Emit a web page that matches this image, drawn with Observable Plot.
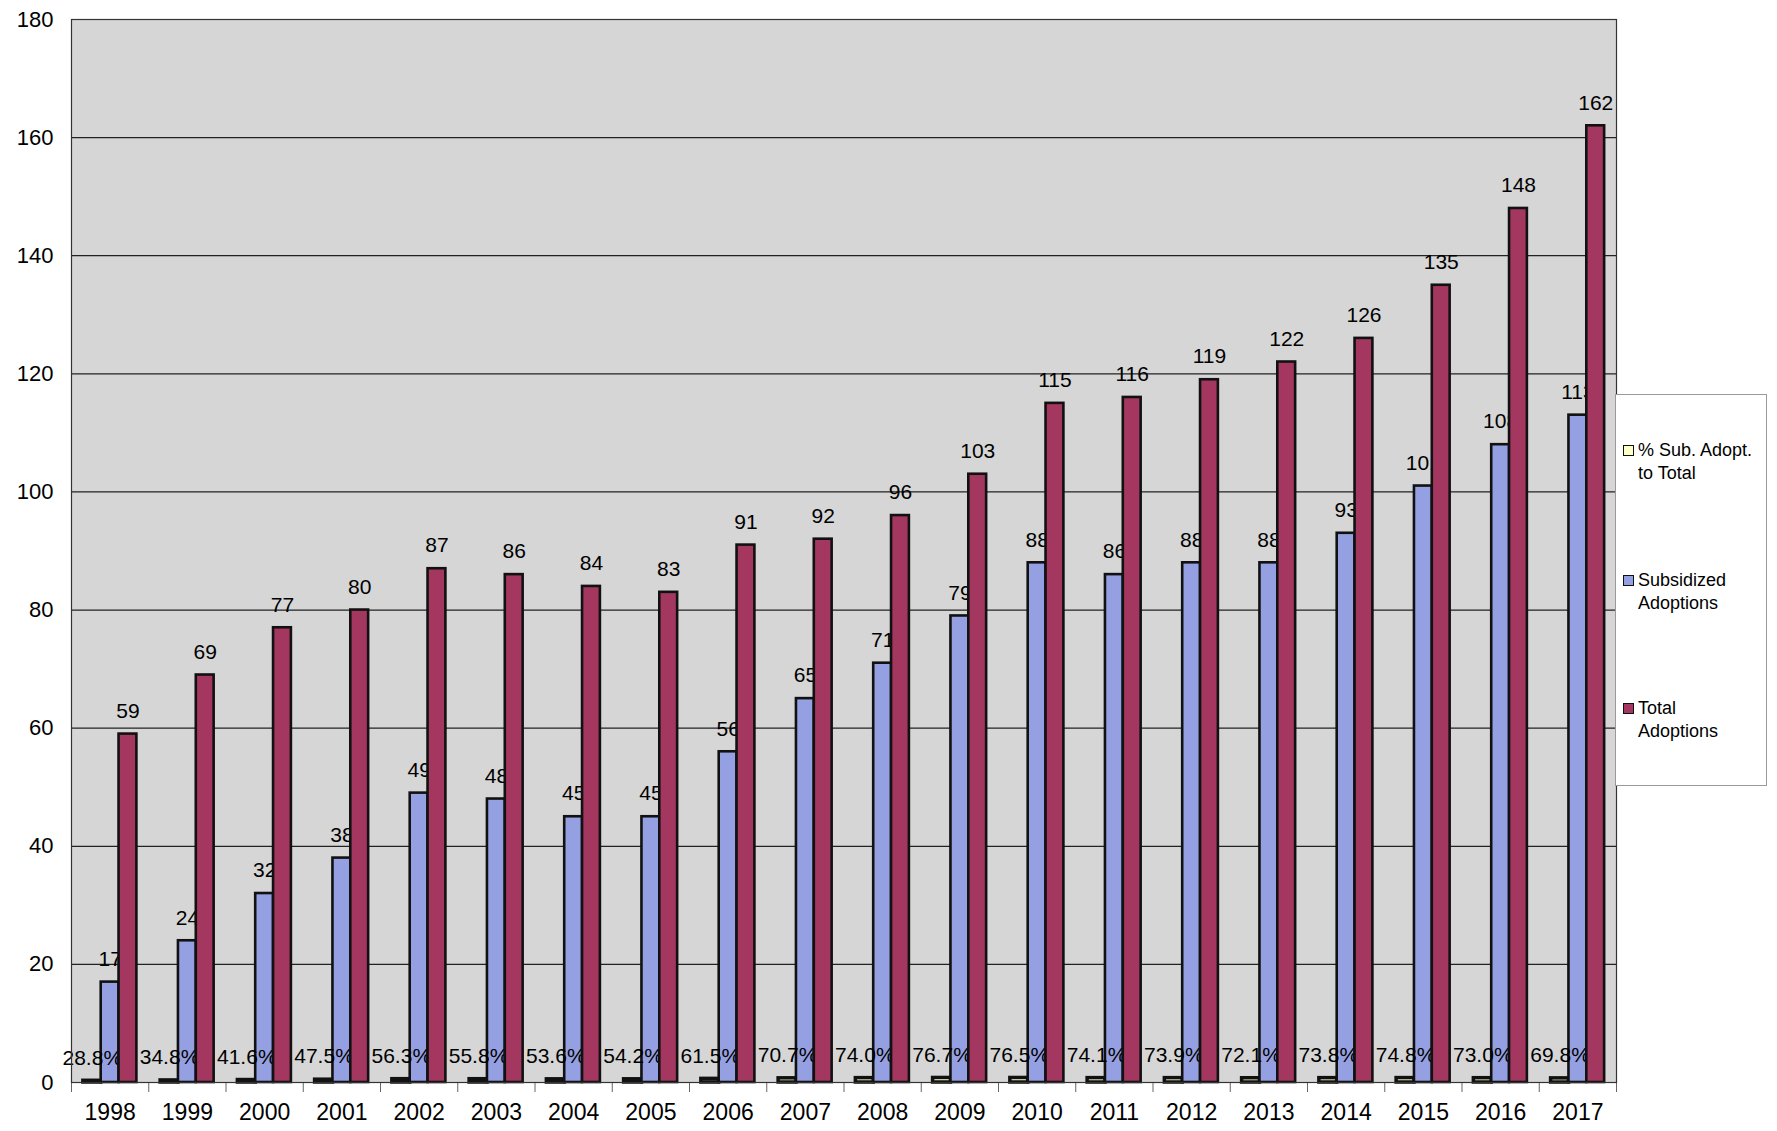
<!DOCTYPE html>
<html><head><meta charset="utf-8">
<script src="https://cdn.jsdelivr.net/npm/d3@7"></script>
<script src="https://cdn.jsdelivr.net/npm/@observablehq/plot@0.6"></script>
<style>
body{margin:0;background:#fff;font-family:"Liberation Sans",Arial,sans-serif;}
#wrap{position:relative;width:1777px;height:1131px;}
#legend{position:absolute;left:1615px;top:394px;width:152px;height:392px;border:1px solid #9a9a9a;background:#fff;box-sizing:border-box;}
.item{position:absolute;left:7px;font-size:18px;line-height:23px;color:#000;}
.sw{position:absolute;left:0;top:6px;width:9px;height:9px;border:1.5px solid #111;}
.lab{margin-left:15px;white-space:nowrap;}
</style></head>
<body><div id="wrap"><div id="chart"></div><div id="legend"></div></div>
<script>
const years = ["1998","1999","2000","2001","2002","2003","2004","2005","2006","2007","2008","2009","2010","2011","2012","2013","2014","2015","2016","2017"];
const subsidized = [17,24,32,38,49,48,45,45,56,65,71,79,88,86,88,88,93,101,108,113];
const total = [59,69,77,80,87,86,84,83,91,92,96,103,115,116,119,122,126,135,148,162];
const pctSub = [28.8,34.8,41.6,47.5,56.3,55.8,53.6,54.2,61.5,70.7,74.0,76.7,76.5,74.1,73.9,72.1,73.8,74.8,73.0,69.8];
const seriesNames = ["% Sub. Adopt. to Total","Subsidized Adoptions","Total Adoptions"];
const seriesColors = ["#ffffc8","#95a0e3","#a4375f"];
const legendLines = [["% Sub. Adopt.","to Total"],["Subsidized","Adoptions"],["Total","Adoptions"]];
const yTicks = [0,20,40,60,80,100,120,140,160,180];

// bar layout within each year slot
const w = 0.231, off = (1 - 3*w)/2;
const rows = [];
years.forEach((yr,i)=>{
  rows.push({i, s:0, value:pctSub[i]/100, label:pctSub[i].toFixed(1)+"%"});
  rows.push({i, s:1, value:subsidized[i], label:String(subsidized[i])});
  rows.push({i, s:2, value:total[i], label:String(total[i])});
});
const x1 = d => d.i + off + d.s*w;
const x2 = d => d.i + off + (d.s+1)*w;
const xm = d => d.i + off + (d.s+0.5)*w;
const S = s => rows.filter(d=>d.s===s);

const barOpts = s => ({x1, x2, y:"value", fill: seriesColors[s], stroke:"#111", strokeWidth: s===0 ? 3.5 : 2.6});
const txtOpts = {x: xm, y:"value", text:"label", dy:-23, fontSize:21, fill:"#000", textAnchor:"middle"};

const chart = Plot.plot({
  width:1777, height:1131,
  marginTop:19, marginBottom:49, marginLeft:71, marginRight:161,
  style:{fontFamily:'"Liberation Sans", Arial, sans-serif', background:"transparent", color:"#000"},
  x:{domain:[0,20]},
  y:{domain:[0,180]},
  marks:[
    Plot.frame({fill:"#d6d6d6"}),
    Plot.ruleY(yTicks.filter(t=>t>0 && t<180), {stroke:"#222", strokeWidth:1.2}),
    Plot.axisY(yTicks, {tickSize:0, tickPadding:18, fontSize:22, label:null}),
    Plot.axisX(d3.range(0,21), {tickSize:10, tickFormat:()=>"", stroke:"#666", label:null}),
    Plot.axisX(d3.range(20).map(i=>i+0.5), {tickSize:0, tickPadding:21, fontSize:23, tickFormat: v => years[Math.round(v-0.5)], label:null}),
    Plot.rectY(S(0), barOpts(0)),
    Plot.rectY(S(1), barOpts(1)),
    Plot.text(S(0), txtOpts),
    Plot.text(S(1), txtOpts),
    Plot.rectY(S(2), barOpts(2)),
    Plot.text(S(2), txtOpts),
    Plot.frame({stroke:"#333", strokeWidth:1.2})
  ]
});
document.getElementById("chart").appendChild(chart);

const lg = document.getElementById("legend");
const tops = [44, 174, 302];
seriesNames.forEach((n,k)=>{
  const it = document.createElement("div");
  it.className="item"; it.style.top = tops[k]+"px"; it.title = n;
  it.innerHTML = `<div class="sw" style="background:${seriesColors[k]}"></div><div class="lab">${legendLines[k][0]}<br>${legendLines[k][1]}</div>`;
  lg.appendChild(it);
});
</script></body></html>
